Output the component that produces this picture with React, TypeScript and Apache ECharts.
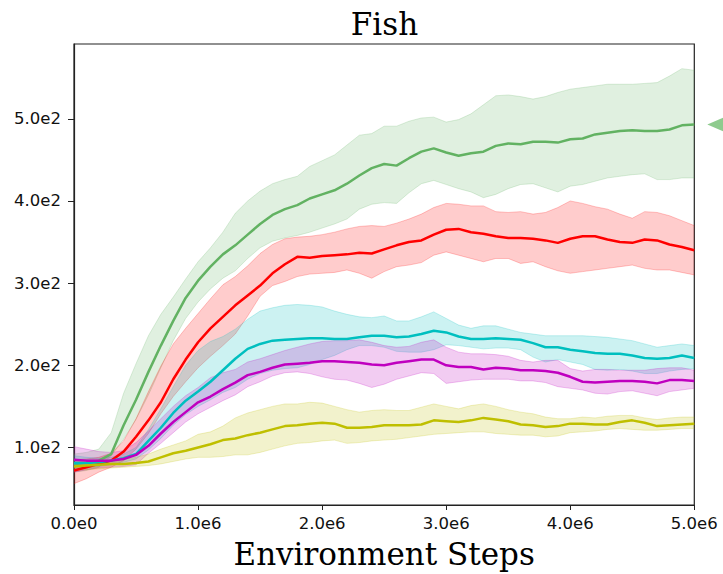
import React, { useEffect, useRef } from 'react';
import * as echarts from 'echarts';

// x sampling grid, in millions of environment steps
const stepsM = [
  0, 0.1, 0.2, 0.3, 0.4, 0.5, 0.6, 0.7, 0.8, 0.9,
  1.0, 1.1, 1.2, 1.3, 1.4, 1.5, 1.6, 1.7, 1.8, 1.9,
  2.0, 2.1, 2.2, 2.3, 2.4, 2.5, 2.6, 2.7, 2.8, 2.9,
  3.0, 3.1, 3.2, 3.3, 3.4, 3.5, 3.6, 3.7, 3.8, 3.9,
  4.0, 4.1, 4.2, 4.3, 4.4, 4.5, 4.6, 4.7, 4.8, 4.9,
  5.0,
];

const xTickLabels = ['0.0e0', '1.0e6', '2.0e6', '3.0e6', '4.0e6', '5.0e6'];
const yTickValues = [100, 200, 300, 400, 500];

const greenMean = [
  80, 81, 84, 92, 127, 158, 192, 224, 254, 282,
  303, 320, 335, 346, 359, 372, 383, 390, 395, 403,
  408, 413, 421, 431, 440, 445, 443, 452, 460, 464,
  459, 455, 458, 460, 467, 470, 469, 472, 472, 471,
  475, 476, 481, 483, 485, 486, 485, 485, 487, 492,
  493,
];
const greenUpper = [
  92, 94, 98, 118, 166, 202, 236, 262, 283, 305,
  326, 343, 362, 385, 400, 412, 421, 426, 430, 442,
  449, 456, 468, 480, 482, 491, 491, 497, 501, 502,
  496, 499, 506, 517, 528, 529, 527, 524, 527, 532,
  536, 538, 540, 542, 542, 542, 543, 544, 552, 561,
  559,
];
const greenLower = [
  70, 72, 76, 90, 110, 134, 164, 197, 230, 257,
  277, 293, 306, 315, 330, 343, 351, 355, 358, 362,
  367, 372, 378, 390, 396, 398, 397, 410, 421, 425,
  420, 415, 411, 404, 408, 415, 420, 421, 416, 411,
  418, 420, 424, 428, 430, 432, 433, 426, 426, 428,
  428,
];

const redMean = [
  72, 76, 80, 84, 95, 113, 133, 155, 183, 207,
  228, 245, 259, 273, 285, 297, 312, 323, 332, 331,
  333, 334, 335, 337, 336, 341, 346, 350, 352, 359,
  365, 366, 362, 360, 357, 355, 355, 354, 352, 349,
  354, 357, 357, 353, 350, 349, 353, 352, 347, 344,
  340,
];
const redUpper = [
  85, 86, 88, 93, 108, 135, 168, 199, 226, 245,
  263, 281, 298, 308, 321, 336, 347, 354, 356, 357,
  359, 362, 366, 369, 370, 369, 373, 378, 384, 392,
  397, 396, 394, 394, 387, 386, 387, 384, 386, 392,
  400, 397, 393, 390, 384, 379, 387, 386, 382, 376,
  370,
];
const redLower = [
  56, 62, 70, 76, 84, 98, 117, 141, 162, 180,
  197, 211, 224, 238, 260, 284, 297, 302, 308, 311,
  312, 313, 316, 312, 306, 314, 320, 322, 325, 334,
  338, 334, 330, 326, 330, 330, 324, 326, 320, 315,
  312, 314, 316, 318, 320, 322, 318, 316, 316, 313,
  310,
];

const cyanMean = [
  81, 81, 82, 84, 87, 92, 108, 124, 142, 157,
  168, 180, 194, 208, 220, 226, 230, 231, 232, 233,
  233, 232, 232, 234, 236, 236, 234, 235, 238, 242,
  240, 235, 232, 232, 233, 232, 231, 227, 222, 222,
  219, 217, 215, 214, 214, 212, 209, 208, 209, 212,
  209,
];
const cyanUpper = [
  90, 88, 87, 88, 92, 100, 122, 147, 174, 200,
  218, 229, 235, 244, 256, 266, 270, 273, 274, 273,
  271, 266, 262, 259, 258, 260, 254, 254, 259, 265,
  257, 249, 245, 248, 248, 244, 240, 238, 236, 236,
  236, 236, 235, 234, 232, 230, 226, 222, 224, 226,
  224,
];
const cyanLower = [
  73, 75, 77, 79, 82, 86, 97, 111, 127, 140,
  150, 158, 167, 173, 183, 190, 194, 196, 197, 201,
  207, 212, 219, 224, 224, 222, 217, 216, 216, 219,
  225, 224, 222, 220, 221, 221, 219, 210, 204, 207,
  204, 201, 195, 194, 195, 193, 190, 190, 193, 195,
  196,
];

const magentaMean = [
  85, 84, 84, 84, 86, 91, 102, 117, 131, 143,
  155, 162, 171, 179, 188, 192, 197, 201, 202, 203,
  205, 205, 204, 203, 201, 200, 203, 205, 207, 207,
  200, 198, 198, 195, 197, 196, 194, 194, 193, 191,
  186, 180, 179, 180, 181, 181, 180, 178, 182, 182,
  181,
];
const magentaUpper = [
  101, 98, 95, 94, 96, 106, 120, 135, 150, 163,
  173, 185, 191, 195, 204, 208, 213, 218, 222, 226,
  229, 230, 230, 231, 228, 224, 222, 223, 228, 231,
  222, 216, 214, 214, 213, 211, 206, 204, 206, 206,
  196, 193, 195, 195, 194, 194, 194, 196, 197, 197,
  194,
];
const magentaLower = [
  70, 73, 75, 76, 77, 79, 93, 105, 118, 131,
  141, 149, 157, 164, 174, 180, 187, 191, 192, 190,
  186, 183, 182, 178, 173, 177, 183, 187, 191, 190,
  178, 180, 182, 183, 183, 183, 181, 181, 179, 174,
  172, 170, 166, 165, 168, 169, 166, 163, 168, 170,
  172,
];

const oliveMean = [
  77, 78, 79, 80, 80, 81, 83, 88, 93, 96,
  100, 104, 109, 111, 115, 118, 122, 126, 127, 129,
  130, 129, 124, 124, 125, 127, 127, 127, 128, 133,
  132, 131, 133, 136, 134, 132, 128, 127, 125, 126,
  129, 129, 128, 128, 131, 133, 130, 126, 127, 128,
  129,
];
const oliveUpper = [
  82, 83, 84, 85, 86, 88, 92, 98, 103, 108,
  116, 119, 126, 136, 142, 146, 150, 153, 153, 155,
  154, 150, 146, 143, 145, 146, 145, 145, 149, 153,
  150, 147, 151, 153, 150, 146, 143, 141, 137, 135,
  135, 137, 136, 138, 139, 139, 136, 134, 136, 137,
  137,
];
const oliveLower = [
  72, 73, 74, 75, 76, 77, 78, 80, 83, 86,
  88, 88, 89, 91, 91, 94, 98, 102, 105, 106,
  108, 109, 105, 106, 108, 109, 110, 112, 114, 116,
  117, 118, 119, 119, 117, 116, 115, 115, 113, 114,
  118, 119, 120, 122, 123, 122, 121, 121, 122, 123,
  123,
];

const methods = [
  { key: 'green', color: '#62b262', rgb: '98,178,98', mean: greenMean, upper: greenUpper, lower: greenLower, marker: true },
  { key: 'red', color: '#ff0000', rgb: '255,0,0', mean: redMean, upper: redUpper, lower: redLower, marker: false },
  { key: 'cyan', color: '#00bfbf', rgb: '0,191,191', mean: cyanMean, upper: cyanUpper, lower: cyanLower, marker: false },
  { key: 'magenta', color: '#bf00bf', rgb: '191,0,191', mean: magentaMean, upper: magentaUpper, lower: magentaLower, marker: false },
  { key: 'olive', color: '#bfbf00', rgb: '191,191,0', mean: oliveMean, upper: oliveUpper, lower: oliveLower, marker: false },
];

const W = 723;
const H = 574;

export default function App() {
  const ref = useRef<HTMLDivElement>(null);

  useEffect(() => {
    if (!ref.current) return;
    const chart = echarts.init(ref.current, null, { renderer: 'svg', width: W, height: H });

    const xs = stepsM.map((s) => s * 1e6);
    const series: any[] = [];

    // shaded bands (one polygon per method, drawn through the axes' scales)
    methods.forEach((m) => {
      series.push({
        type: 'custom',
        name: m.key + '_band',
        silent: true,
        clip: true,
        z: 1,
        encode: { x: 0, y: [1, 2] },
        data: m.upper.map((u, i) => [xs[i], u, m.lower[i]]),
        renderItem: (params: any, api: any) => {
          if (params.dataIndex !== 0) return null;
          const up = xs.map((x, i) => api.coord([x, m.upper[i]]));
          const lo = xs.map((x, i) => api.coord([x, m.lower[i]]));
          const poly = up.concat(lo.slice().reverse());
          return {
            type: 'group',
            children: [
              {
                type: 'polygon',
                shape: { points: poly },
                style: { fill: 'rgba(' + m.rgb + ',0.2)', stroke: 'none' },
              },
              {
                type: 'polyline',
                shape: { points: up },
                style: { fill: 'none', stroke: 'rgba(' + m.rgb + ',0.22)', lineWidth: 1 },
              },
              {
                type: 'polyline',
                shape: { points: lo },
                style: { fill: 'none', stroke: 'rgba(' + m.rgb + ',0.22)', lineWidth: 1 },
              },
            ],
          };
        },
      });
    });

    // mean lines
    methods.forEach((m) => {
      const s: any = {
        type: 'line',
        name: m.key,
        data: m.mean.map((v, i) => [xs[i], v]),
        symbol: 'none',
        showSymbol: false,
        silent: true,
        z: 2,
        lineStyle: { color: m.color, width: 2.5 },
      };
      if (m.marker) {
        s.markPoint = {
          silent: true,
          symbol: 'triangle',
          symbolSize: [17, 20],
          symbolRotate: 90,
          symbolOffset: [23, 0],
          itemStyle: { color: '#8ecb8e' },
          label: { show: false },
          data: [{ coord: [xs[xs.length - 1], m.mean[m.mean.length - 1]] }],
        };
      }
      series.push(s);
    });

    chart.setOption({
      animation: false,
      backgroundColor: '#ffffff',
      title: {
        text: 'Fish',
        left: 384.5,
        top: 8,
        padding: 0,
        textAlign: 'center',
        textStyle: { fontFamily: 'DejaVu Serif', fontSize: 31, fontWeight: 'normal', color: '#000' },
      },
      grid: {
        left: 74,
        right: 28.7,
        top: 44,
        bottom: 66,
        show: true,
        borderColor: '#222',
        borderWidth: 1.2,
        backgroundColor: 'transparent',
      },
      xAxis: {
        type: 'value',
        min: 0,
        max: 5e6,
        interval: 1e6,
        name: 'Environment Steps',
        nameLocation: 'middle',
        nameGap: 33,
        nameTextStyle: { fontFamily: 'DejaVu Serif', fontSize: 31, color: '#000' },
        axisLine: { show: true, onZero: false, lineStyle: { color: '#222', width: 1.2 } },
        axisTick: { show: true, inside: false, length: 5, lineStyle: { color: '#222', width: 1 } },
        axisLabel: {
          fontFamily: 'DejaVu Sans',
          fontSize: 16.5,
          color: '#111',
          margin: 10,
          formatter: (v: number) => xTickLabels[Math.round(v / 1e6)] ?? '',
        },
        splitLine: { show: false },
      },
      yAxis: {
        type: 'value',
        min: 30,
        max: 591,
        axisLine: { show: true, onZero: false, lineStyle: { color: '#222', width: 1.2 } },
        axisTick: { show: true, inside: false, length: 6, customValues: yTickValues, lineStyle: { color: '#222', width: 1 } },
        axisLabel: {
          fontFamily: 'DejaVu Sans',
          fontSize: 16.5,
          color: '#111',
          margin: 13,
          customValues: yTickValues,
          formatter: (v: number) => (v / 100).toFixed(1) + 'e2',
        },
        splitLine: { show: false },
      },
      series,
    });

    return () => {
      chart.dispose();
    };
  }, []);

  return (
    <div
      ref={ref}
      style={{ position: 'fixed', left: 0, top: 0, width: W + 'px', height: H + 'px', background: '#fff' }}
    />
  );
}
